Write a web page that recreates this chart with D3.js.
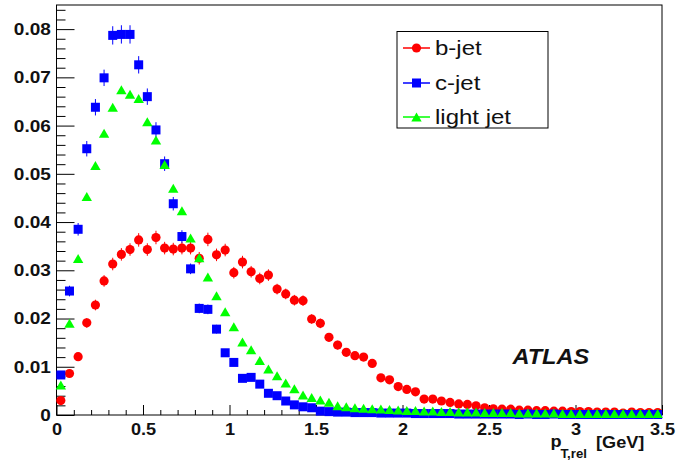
<!DOCTYPE html>
<html>
<head>
<meta charset="utf-8">
<script src="https://cdn.jsdelivr.net/npm/d3@7"></script>
<style>
  html, body { margin: 0; padding: 0; background: #fff; }
  svg { display: block; }
  text { font-family: "Liberation Sans", Arial, Helvetica, sans-serif; }
</style>
</head>
<body>
<svg id="chart" width="676" height="466"></svg>
<script>
// ---------- data ----------
const binCenters = d3.range(70).map(i => +(0.025 + 0.05 * i).toFixed(3));

const bJet = [0.0030,0.0086,0.0121,0.0191,0.0228,0.0278,0.0313,0.0333,0.0343,0.0363,
  0.0343,0.0368,0.0346,0.0344,0.0346,0.0346,0.0325,0.0364,0.0332,0.0342,
  0.0295,0.0317,0.0297,0.0283,0.0290,0.0261,0.0251,0.0238,0.0237,0.0199,
  0.0190,0.0161,0.0145,0.0130,0.0123,0.0120,0.0107,0.0077,0.0073,0.0059,
  0.0053,0.0048,0.0033,0.0033,0.0029,0.0026,0.0023,0.0022,0.0019,0.0015,
  0.0013,0.0012,0.0012,0.0010,0.0010,0.0009,0.0009,0.0008,0.0008,0.0007,
  0.0007,0.0007,0.0006,0.0006,0.0006,0.0004,0.0006,0.0005,0.0005,0.0005];
const bJetErr = [0.0004,0.0007,0.0008,0.0010,0.0011,0.0012,0.0013,0.0013,0.0013,0.0014,
  0.0013,0.0014,0.0013,0.0013,0.0013,0.0013,0.0013,0.0014,0.0013,0.0013,
  0.0012,0.0013,0.0012,0.0012,0.0012,0.0011,0.0011,0.0011,0.0011,0.0010,
  0.0010,0.0009,0.0009,0.0008,0.0008,0.0008,0.0007,0.0006,0.0006,0.0005,
  0.0005,0.0005,0.0004,0.0004,0.0004,0.0004,0.0003,0.0003,0.0003,0.0003,
  0.0003,0.0002,0.0002,0.0002,0.0002,0.0002,0.0002,0.0002,0.0002,0.0002,
  0.0002,0.0002,0.0002,0.0002,0.0002,0.0001,0.0002,0.0002,0.0002,0.0002];

const cJet = [0.0083,0.0257,0.0385,0.0552,0.0638,0.0699,0.0787,0.0789,0.0789,0.0726,
  0.0660,0.0591,0.0521,0.0438,0.0370,0.0303,0.0221,0.0219,0.0178,0.0129,
  0.0109,0.0076,0.0078,0.0064,0.0045,0.0040,0.0029,0.0021,0.0017,0.0015,
  0.0008,0.0007,0.0006,0.0006,0.0005,0.0005,0.0005,0.0004,0.0004,0.0004,
  0.0004,0.0003,0.0003,0.0003,0.0003,0.0003,0.0002,0.0002,0.0002,0.0002,
  0.0002,0.0002,0.0002,0.0001,0.0002,0.0001,0.0001,0.0002,0.0001,0.0001,
  0.0001,0.0001,0.0001,0.0001,0.0001,0.0001,0.0001,0.0001,0.0001,0.0001];
const cJetErr = [0.0006,0.0011,0.0013,0.0016,0.0017,0.0017,0.0019,0.0019,0.0019,0.0018,
  0.0017,0.0016,0.0015,0.0014,0.0013,0.0011,0.0010,0.0010,0.0009,0.0007,
  0.0007,0.0006,0.0006,0.0005,0.0004,0.0004,0.0004,0.0003,0.0003,0.0003,
  0.0002,0.0002,0.0002,0.0002,0.0002,0.0002,0.0002,0.0002,0.0002,0.0002,
  0.0002,0.0001,0.0001,0.0001,0.0001,0.0001,0.0001,0.0001,0.0001,0.0001,
  0.0001,0.0001,0.0001,0.0001,0.0001,0.0001,0.0001,0.0001,0.0001,0.0001,
  0.0001,0.0001,0.0001,0.0001,0.0001,0.0001,0.0001,0.0001,0.0001,0.0001];

const lightJet = [0.0062,0.0190,0.0324,0.0453,0.0517,0.0584,0.0638,0.0674,0.0665,0.0656,
  0.0608,0.0570,0.0519,0.0470,0.0423,0.0367,0.0326,0.0286,0.0247,0.0214,
  0.0183,0.0151,0.0135,0.0113,0.0095,0.0081,0.0066,0.0054,0.0041,0.0036,
  0.0031,0.0026,0.0019,0.0017,0.0015,0.0014,0.0013,0.0012,0.0011,0.0010,
  0.0009,0.0009,0.0008,0.0008,0.0007,0.0007,0.0006,0.0006,0.0006,0.0005,
  0.0005,0.0005,0.0005,0.0004,0.0004,0.0004,0.0004,0.0004,0.0003,0.0003,
  0.0003,0.0003,0.0003,0.0003,0.0003,0.0003,0.0003,0.0003,0.0003,0.0003];

const seriesNames = ["b-jet", "c-jet", "light jet"];
const xTickValues = [0, 0.5, 1, 1.5, 2, 2.5, 3, 3.5];
const xTickLabels = ["0", "0.5", "1", "1.5", "2", "2.5", "3", "3.5"];
const yTickValues = [0, 0.01, 0.02, 0.03, 0.04, 0.05, 0.06, 0.07, 0.08];
const yTickLabels = ["0", "0.01", "0.02", "0.03", "0.04", "0.05", "0.06", "0.07", "0.08"];

// ---------- layout ----------
const svg = d3.select("#chart");
const L = 56.5, R = 662, T = 5, B = 415;
const x = d3.scaleLinear().domain([0, 3.5]).range([L, R]);
const y = d3.scaleLinear().domain([0, 0.085]).range([B, T]);

svg.append("rect").attr("width", 676).attr("height", 466).attr("fill", "#fff");

// frame
svg.append("rect").attr("x", L).attr("y", T).attr("width", R - L).attr("height", B - T)
  .attr("fill", "none").attr("stroke", "#000").attr("stroke-width", 1);

// minor ticks
const xMinor = d3.range(0, 3.5001, 0.1).filter(v => Math.abs(v / 0.5 - Math.round(v / 0.5)) > 1e-6);
const yMinor = d3.range(0, 0.0845, 0.002).filter(v => Math.abs(v / 0.01 - Math.round(v / 0.01)) > 1e-6);

svg.append("g").attr("transform", `translate(0,${B})`)
  .call(d3.axisBottom(x).tickValues(xMinor).tickSize(-5).tickFormat(""))
  .call(g => g.select(".domain").remove());
svg.append("g").attr("transform", `translate(${L},0)`)
  .call(d3.axisLeft(y).tickValues(yMinor).tickSize(-9).tickFormat(""))
  .call(g => g.select(".domain").remove());

// major ticks with labels
const xAxisG = svg.append("g").attr("transform", `translate(0,${B})`)
  .call(d3.axisBottom(x).tickValues(xTickValues).tickSize(-10).tickPadding(8)
    .tickFormat((d, i) => xTickLabels[i]))
  .call(g => g.select(".domain").remove());
xAxisG.selectAll("text").attr("font-size", 16.5).attr("font-weight", "bold")
  .attr("fill", "#111").attr("font-family", "Liberation Sans, Arial, sans-serif")
  .attr("transform", "scale(1.1,1)");

const yAxisG = svg.append("g").attr("transform", `translate(${L},0)`)
  .call(d3.axisLeft(y).tickValues(yTickValues).tickSize(-18).tickPadding(5)
    .tickFormat((d, i) => yTickLabels[i]))
  .call(g => g.select(".domain").remove());
yAxisG.selectAll("text").attr("font-size", 17).attr("font-weight", "bold")
  .attr("fill", "#111").attr("font-family", "Liberation Sans, Arial, sans-serif")
  .attr("transform", "scale(1.12,1)");
yAxisG.selectAll(".tick line, path").attr("stroke", "#000");
xAxisG.selectAll(".tick line").attr("stroke", "#000");

// ---------- markers ----------
const sq = 9, cr = 4.6;
function triPath(cx, cy) {
  return `M${cx},${cy - 4.6}L${cx + 5.2},${cy + 4.4}L${cx - 5.2},${cy + 4.4}Z`;
}

// b-jet (red circles)
const gB = svg.append("g");
gB.selectAll("line").data(binCenters).join("line")
  .attr("x1", d => x(d)).attr("x2", d => x(d))
  .attr("y1", (d, i) => y(bJet[i] - bJetErr[i])).attr("y2", (d, i) => y(bJet[i] + bJetErr[i]))
  .attr("stroke", "#ff0000").attr("stroke-width", 1);
gB.selectAll("circle").data(binCenters).join("circle")
  .attr("cx", d => x(d)).attr("cy", (d, i) => y(bJet[i])).attr("r", cr)
  .attr("fill", "#ff0000");

// c-jet (blue squares)
const gC = svg.append("g");
gC.selectAll("line").data(binCenters).join("line")
  .attr("x1", d => x(d)).attr("x2", d => x(d))
  .attr("y1", (d, i) => y(cJet[i] - cJetErr[i])).attr("y2", (d, i) => y(cJet[i] + cJetErr[i]))
  .attr("stroke", "#0000ff").attr("stroke-width", 1);
gC.selectAll("rect").data(binCenters).join("rect")
  .attr("x", d => x(d) - sq / 2).attr("y", (d, i) => y(cJet[i]) - sq / 2)
  .attr("width", sq).attr("height", sq).attr("fill", "#0000ff");

// light jet (green triangles)
const gL = svg.append("g");
gL.selectAll("path").data(binCenters).join("path")
  .attr("d", (d, i) => triPath(x(d), y(lightJet[i])))
  .attr("fill", "#00ff00");

// ---------- legend ----------
const lg = svg.append("g");
lg.append("rect").attr("x", 397).attr("y", 31.5).attr("width", 151).attr("height", 96.5)
  .attr("fill", "#fff").attr("stroke", "#000").attr("stroke-width", 1);
const rows = [48, 83, 117];
const colors = ["#ff0000", "#0000ff", "#00ff00"];
seriesNames.forEach((name, i) => {
  const ry = rows[i];
  lg.append("line").attr("x1", 403).attr("x2", 430).attr("y1", ry).attr("y2", ry)
    .attr("stroke", colors[i]).attr("stroke-width", 1.5);
  if (i === 0) lg.append("circle").attr("cx", 416.5).attr("cy", ry).attr("r", cr).attr("fill", colors[i]);
  if (i === 1) lg.append("rect").attr("x", 416.5 - sq / 2).attr("y", ry - sq / 2).attr("width", sq).attr("height", sq).attr("fill", colors[i]);
  if (i === 2) lg.append("path").attr("d", triPath(416.5, ry)).attr("fill", colors[i]);
  lg.append("text").attr("transform", `translate(435,${ry + 7}) scale(1.2,1)`)
    .attr("font-size", 20).attr("fill", "#111").text(name);
});

// ---------- ATLAS label ----------
svg.append("text").attr("transform", "translate(512.5,364) scale(1.07,1)")
  .attr("font-size", 22).attr("font-weight", "bold").attr("font-style", "italic")
  .attr("fill", "#111").text("ATLAS");

// ---------- axis title ----------
svg.append("text").attr("transform", "translate(550.5,447) scale(1.1,1)")
  .attr("font-size", 16.5).attr("font-weight", "bold").attr("fill", "#111").text("p");
svg.append("text").attr("transform", "translate(560.5,457.5) scale(1.1,1)")
  .attr("font-size", 12).attr("font-weight", "bold").attr("fill", "#111").text("T,rel");
svg.append("text").attr("transform", "translate(596,447.5) scale(1.1,1)")
  .attr("font-size", 16.5).attr("font-weight", "bold").attr("fill", "#111").text("[GeV]");
</script>
</body>
</html>
